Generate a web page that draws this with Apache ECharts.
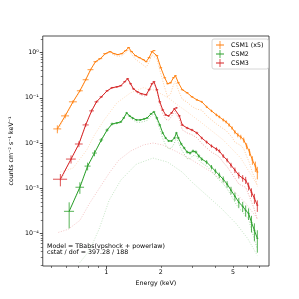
<!DOCTYPE html>
<html><head><meta charset="utf-8">
<script src="https://cdn.jsdelivr.net/npm/echarts@6/dist/echarts.min.js"></script>
<style>html,body{margin:0;padding:0;background:#fff}#c{width:299px;height:299px}</style>
</head><body><div id="c"></div>
<script>
// ---- CSM1 (x5) ----
var csm1E = [0.538,0.594,0.656,0.716,0.771,0.820,0.873,0.928,0.988,1.051,1.104,1.160,1.219,1.281,1.329,1.380,1.450,1.523,1.601,1.661,1.724,1.789,1.834,1.903,2.000,2.102,2.182,2.264,2.350,2.409,2.500,2.626,2.795,2.973,3.162,3.365,3.579,3.808,4.052,4.205,4.418,4.585,4.759,4.94,5.125,5.319,5.52,5.73,5.946,6.17,6.40,6.646,6.813];
var csm1HW = [0.027,0.030,0.033,0.027,0.029,0.031,0.022,0.023,0.025,0.020,0.021,0.022,0.023,0.024,0.025,0.026,0.027,0.029,0.030,0.031,0.032,0.033,0.034,0.035,0.036,0.038,0.039,0.041,0.042,0.043,0.045,0.047,0.05,0.053,0.045,0.045,0.045,0.047,0.05,0.05,0.055,0.055,0.06,0.06,0.065,0.065,0.07,0.07,0.075,0.075,0.08,0.08,0.085];
var csm1Flux = [0.0205,0.0398,0.0815,0.143,0.251,0.419,0.631,0.736,0.950,1.052,0.950,0.903,0.950,1.108,1.292,1.052,0.858,0.774,0.699,0.631,0.774,1.052,1.108,0.858,0.464,0.278,0.205,0.215,0.278,0.308,0.215,0.151,0.129,0.105,0.0903,0.0815,0.0631,0.0514,0.0419,0.0378,0.0324,0.0293,0.0251,0.0215,0.0175,0.0151,0.0136,0.0117,0.00858,0.00631,0.00419,0.00308,0.00227];
var csm1Err = [0.0041,0.0048,0.0065,0.0086,0.0125,0.017,0.019,0.022,0.028,0.032,0.028,0.027,0.028,0.033,0.039,0.032,0.026,0.023,0.021,0.019,0.023,0.032,0.033,0.026,0.014,0.0083,0.0062,0.0065,0.0083,0.0092,0.0065,0.0045,0.0052,0.0042,0.0045,0.0041,0.0038,0.0031,0.0029,0.0026,0.0026,0.0023,0.0023,0.0019,0.0018,0.0017,0.0016,0.0015,0.0013,0.0011,0.0009,0.0008,0.0007];
var csm1Vps = [0.0183,0.0373,0.0787,0.1385,0.2445,0.409,0.615,0.712,0.915,1.002,0.885,0.823,0.855,0.998,1.17,0.92,0.713,0.616,0.532,0.468,0.616,0.899,0.96,0.721,0.341,0.168,0.104,0.123,0.195,0.231,0.148,0.093,0.080,0.064,0.056,0.0535,0.040,0.0324,0.0264,0.0238,0.0207,0.0188,0.0159,0.0134,0.0104,0.0096,0.0088,0.0075,0.0051,0.0036,0.0022,0.0016,0.0011];
var csm1PlE = [0.559,0.656,0.781,0.862,0.975,1.146,1.363,1.601,1.811,2.05,2.236,2.469,2.795,3.365,4.418,5.52,6.813];
var csm1Pl = [0.00227,0.00278,0.00699,0.0151,0.0324,0.0774,0.129,0.167,0.151,0.117,0.095,0.0699,0.0489,0.0278,0.0117,0.00464,0.00117];

// ---- CSM2 ----
var csm2E = [0.625,0.716,0.790,0.862,0.940,1.012,1.077,1.146,1.204,1.250,1.297,1.346,1.397,1.468,1.542,1.620,1.682,1.767,1.834,1.903,1.975,2.05,2.128,2.209,2.293,2.378,2.439,2.500,2.594,2.692,2.795,2.900,3.01,3.124,3.243,3.365,3.579,3.808,4.0,4.205,4.418,4.642,4.877,5.125,5.385,5.657,5.874,6.096,6.325,6.565,6.813];
var csm2HW = [0.04,0.039,0.03,0.026,0.022,0.02,0.02,0.02,0.02,0.02,0.02,0.021,0.022,0.023,0.024,0.025,0.026,0.028,0.03,0.031,0.032,0.033,0.034,0.035,0.036,0.038,0.04,0.042,0.044,0.046,0.048,0.05,0.052,0.055,0.055,0.05,0.05,0.055,0.055,0.06,0.06,0.065,0.065,0.07,0.07,0.075,0.075,0.08,0.08,0.085,0.085];
var csm2Flux = [0.000308,0.00105,0.00308,0.00599,0.0117,0.0194,0.0264,0.0278,0.0293,0.0359,0.0464,0.0398,0.0359,0.0324,0.0324,0.0341,0.0359,0.0441,0.0489,0.0359,0.0251,0.0167,0.0129,0.0111,0.0111,0.0129,0.0167,0.0129,0.0095,0.00774,0.00631,0.00599,0.00664,0.00631,0.00514,0.00441,0.00378,0.00293,0.00239,0.00194,0.00158,0.00123,0.000903,0.000664,0.000489,0.000398,0.000324,0.000278,0.000175,0.000117,0.0000775];
var csm2Err = [0.000179,0.0003,0.0006,0.0009,0.0012,0.0015,0.0018,0.0014,0.0015,0.0018,0.0023,0.002,0.0018,0.0016,0.0016,0.0017,0.0018,0.0022,0.0024,0.0018,0.0013,0.0009,0.0007,0.0006,0.0006,0.0007,0.0009,0.0007,0.0006,0.0005,0.00045,0.00045,0.0005,0.0005,0.00045,0.0004,0.00038,0.00033,0.0003,0.00027,0.00024,0.0002,0.00017,0.00014,0.00012,0.0001,0.00009,0.00008,0.00007,0.00005,0.00004];
var csm2Vps = [0.000308,0.00103,0.00305,0.00592,0.01153,0.0190,0.0257,0.0267,0.0278,0.0341,0.0443,0.0373,0.033,0.029,0.0287,0.0301,0.0316,0.0395,0.0443,0.0314,0.0208,0.0126,0.009,0.0074,0.0078,0.0099,0.0139,0.0103,0.0072,0.0057,0.0045,0.0045,0.0053,0.0052,0.0042,0.0036,0.0031,0.0024,0.0019,0.0015,0.00125,0.00097,0.0007,0.00049,0.00036,0.0003,0.00024,0.00021,0.00012,0.000074,0.000045];
var csm2PlE = [0.716,0.810,0.917,1.038,1.204,1.468,1.811,2.182,2.626,2.973,3.579,4.31,5.19,6.02,6.813];
var csm2Pl = [0.0000227,0.0000419,0.000129,0.000541,0.00151,0.00341,0.00464,0.00378,0.00227,0.00136,0.000699,0.000359,0.000167,0.0000775,0.0000324];

// ---- CSM3 ----
var csm3E = [0.559,0.640,0.707,0.771,0.831,0.884,0.940,1.012,1.077,1.146,1.204,1.265,1.313,1.363,1.414,1.486,1.562,1.661,1.724,1.789,1.834,1.903,1.975,2.05,2.128,2.209,2.293,2.378,2.439,2.531,2.626,2.795,2.973,3.162,3.365,3.579,3.808,4.052,4.205,4.418,4.642,4.877,5.125,5.385,5.657,5.874,6.096,6.325,6.565,6.813];
var csm3HW = [0.05,0.04,0.035,0.03,0.025,0.022,0.02,0.02,0.02,0.021,0.022,0.023,0.024,0.025,0.026,0.027,0.028,0.03,0.031,0.032,0.033,0.034,0.035,0.036,0.037,0.038,0.04,0.041,0.042,0.044,0.046,0.05,0.053,0.056,0.045,0.048,0.05,0.055,0.055,0.06,0.06,0.065,0.065,0.07,0.07,0.075,0.075,0.08,0.08,0.085];
var csm3Flux = [0.00158,0.00441,0.0095,0.0251,0.0514,0.0815,0.105,0.143,0.167,0.175,0.185,0.227,0.264,0.205,0.158,0.136,0.123,0.117,0.151,0.205,0.227,0.151,0.0815,0.0541,0.0419,0.0398,0.0464,0.057,0.0599,0.0398,0.0251,0.0215,0.0194,0.0167,0.0129,0.0105,0.00858,0.00735,0.00664,0.00514,0.00419,0.00324,0.00251,0.00194,0.00167,0.00151,0.00111,0.000815,0.000599,0.000419];
var csm3Err = [0.00048,0.0009,0.0014,0.0025,0.004,0.005,0.005,0.006,0.007,0.007,0.007,0.009,0.01,0.008,0.006,0.005,0.005,0.005,0.006,0.008,0.009,0.006,0.0035,0.0025,0.002,0.002,0.0022,0.0027,0.0028,0.002,0.0014,0.0013,0.0012,0.0011,0.0009,0.0008,0.0007,0.0007,0.0006,0.0005,0.00045,0.0004,0.00035,0.0003,0.00028,0.00027,0.00022,0.00018,0.00015,0.00012];
var csm3Vps = [0.00148,0.00428,0.00932,0.0248,0.0509,0.0807,0.1038,0.141,0.164,0.171,0.18,0.222,0.258,0.198,0.151,0.128,0.114,0.108,0.141,0.195,0.217,0.141,0.072,0.0451,0.0334,0.0318,0.0389,0.0501,0.0534,0.0337,0.0196,0.0167,0.0152,0.0131,0.0098,0.0078,0.00628,0.00545,0.00494,0.00374,0.00299,0.00224,0.00167,0.00124,0.00112,0.00105,0.00073,0.000505,0.000339,0.0002];
var csm3PlE = [0.545,0.617,0.716,0.810,0.917,1.038,1.175,1.363,1.601,1.811,2.05,2.469,2.973,3.808,4.877,5.874,6.813];
var csm3Pl = [0.000105,0.000123,0.000194,0.000464,0.001,0.00215,0.00419,0.00664,0.00903,0.01,0.00903,0.00631,0.00419,0.00227,0.001,0.000464,0.000215];

// ---- axes ticks ----
var xLabelTicks = [1, 2, 5];
var xMajorTicks = [1];
var xMinorTicks = [0.5, 0.6, 0.7, 0.8, 0.9, 2, 3, 4, 5, 6, 7];
var yMajorTicks = [1e-4, 1e-3, 1e-2, 1e-1, 1];
var yMinorMant = [2, 3, 4, 5, 6, 7, 8, 9];
var yMinorDecades = [1e-5, 1e-4, 1e-3, 1e-2, 1e-1, 1];

var FONT = 'DejaVu Sans';
var FS = 6.3;
var C1 = '#ff7f0e', C2 = '#2ca02c', C3 = '#d62728';

var yMinorTicks = [];
yMinorDecades.forEach(function (d) { yMinorMant.forEach(function (m) { var v = +(m * d).toPrecision(3); if (v > 1.9e-5 && v < 2.3) yMinorTicks.push(v); }); });

function rows(E, HW, F, ER) {
  return E.map(function (e, i) { return [e, e - HW[i], e + HW[i], F[i], F[i] - ER[i], F[i] + ER[i]]; });
}
function pairs(E, V) { return E.map(function (e, i) { return [e, V[i]]; }); }
function rgba(hex, a) {
  var r = parseInt(hex.substr(1, 2), 16), g = parseInt(hex.substr(3, 2), 16), b = parseInt(hex.substr(5, 2), 16);
  return 'rgba(' + r + ',' + g + ',' + b + ',' + a + ')';
}
function errSeries(name, color, data) {
  return {
    type: 'custom', name: name, xAxisIndex: 0, yAxisIndex: 0, z: 4, clip: true,
    itemStyle: { color: color },
    encode: { x: [0, 1, 2], y: [3, 4, 5] },
    data: data,
    renderItem: function (params, api) {
      var l = api.coord([api.value(1), api.value(3)]);
      var r = api.coord([api.value(2), api.value(3)]);
      var t = api.coord([api.value(0), api.value(5)]);
      var b = api.coord([api.value(0), api.value(4)]);
      var st = { stroke: rgba(color, 0.8), lineWidth: 1 };
      return { type: 'group', children: [
        { type: 'line', shape: { x1: l[0], y1: l[1], x2: r[0], y2: r[1] }, style: st },
        { type: 'line', shape: { x1: t[0], y1: t[1], x2: b[0], y2: b[1] }, style: st }
      ] };
    }
  };
}
function lineSeries(color, data, opts) {
  return Object.assign({
    type: 'line', xAxisIndex: 0, yAxisIndex: 0, showSymbol: false, symbol: 'none', silent: true,
    data: data, z: 3, lineStyle: { color: color, width: 1 }
  }, opts || {});
}
function dotted(color, data, a) {
  return lineSeries(rgba(color, a), data, { z: 2, lineStyle: { color: rgba(color, a), width: 0.9, type: [1, 1.6] } });
}
var supMap = { '-': '\u207B', '0': '\u2070', '1': '\u00B9', '2': '\u00B2', '3': '\u00B3', '4': '\u2074', '5': '\u2075' };
function sup(s) { return String(s).split('').map(function (c) { return supMap[c]; }).join(''); }

var XMIN = 0.447, XMAX = 7.9, YMIN = 1.9e-5, YMAX = 2.33;
var textStyle = { fontFamily: FONT, fontSize: FS, color: '#000' };

var chart = echarts.init(document.getElementById('c'), null, { renderer: 'canvas' });
var option = {
  animation: false,
  backgroundColor: '#fff',
  grid: { left: 37, right: 30, top: 36, bottom: 33, show: true, borderColor: '#222', borderWidth: 0.8, backgroundColor: 'transparent' },
  xAxis: [
    { type: 'log', logBase: 10, min: XMIN, max: XMAX, gridIndex: 0,
      name: 'Energy (keV)', nameLocation: 'middle', nameGap: 10, nameTextStyle: textStyle,
      axisLine: { show: false }, splitLine: { show: false },
      axisTick: { show: true, inside: false, length: 3, customValues: xMajorTicks, lineStyle: { color: '#222', width: 0.8 } },
      axisLabel: { customValues: xLabelTicks, margin: 3, fontFamily: FONT, fontSize: FS, color: '#000', formatter: function (v) { return String(+v.toPrecision(3)); } }
    },
    { type: 'log', logBase: 10, min: XMIN, max: XMAX, gridIndex: 0, position: 'bottom',
      axisLine: { show: false }, splitLine: { show: false }, axisLabel: { show: false },
      axisTick: { show: true, length: 2, customValues: xMinorTicks, lineStyle: { color: '#222', width: 0.6 } }
    }
  ],
  yAxis: [
    { type: 'log', logBase: 10, min: YMIN, max: YMAX, gridIndex: 0,
      name: 'counts cm\u207B\u00B2 s\u207B\u00B9 keV\u207B\u00B9', nameLocation: 'middle', nameGap: 18, nameTextStyle: textStyle,
      axisLine: { show: false }, splitLine: { show: false },
      axisTick: { show: true, length: 3, customValues: yMajorTicks, lineStyle: { color: '#222', width: 0.8 } },
      axisLabel: { customValues: yMajorTicks, margin: 4, fontFamily: FONT, fontSize: FS, color: '#000',
        formatter: function (v) { return '10' + sup(Math.round(Math.log10(v))); } }
    },
    { type: 'log', logBase: 10, min: YMIN, max: YMAX, gridIndex: 0, position: 'left',
      axisLine: { show: false }, splitLine: { show: false }, axisLabel: { show: false },
      axisTick: { show: true, length: 2, customValues: yMinorTicks, lineStyle: { color: '#222', width: 0.6 } }
    }
  ],
  legend: {
    orient: 'vertical', left: 212, top: 39, padding: [2, 5, 2, 4], itemGap: 1, itemWidth: 8, itemHeight: 8,
    borderColor: '#ccc', borderWidth: 0.8, borderRadius: 2, backgroundColor: 'rgba(255,255,255,0.8)',
    textStyle: { fontFamily: FONT, fontSize: FS, color: '#000', padding: [0, 0, 0, 2] },
    data: [
      { name: 'CSM1 (x5)', icon: 'path://M0,4.5H10V5.5H0Z M4.5,0H5.5V10H4.5Z' },
      { name: 'CSM2', icon: 'path://M0,4.5H10V5.5H0Z M4.5,0H5.5V10H4.5Z' },
      { name: 'CSM3', icon: 'path://M0,4.5H10V5.5H0Z M4.5,0H5.5V10H4.5Z' }
    ]
  },
  graphic: [
    { type: 'text', left: 47, top: 242.5, silent: true,
      style: { text: 'Model = TBabs(vpshock + powerlaw)\ncstat / dof = 397.28 / 188', fontFamily: FONT, fontSize: FS, lineHeight: 6.8, fill: '#000' } }
  ],
  series: [
    dotted(C1, pairs(csm1PlE, csm1Pl), 0.3),
    dotted(C2, pairs(csm2PlE, csm2Pl), 0.3),
    dotted(C3, pairs(csm3PlE, csm3Pl), 0.3),
    dotted(C1, pairs(csm1E, csm1Vps), 0.45),
    dotted(C2, pairs(csm2E, csm2Vps), 0.45),
    dotted(C3, pairs(csm3E, csm3Vps), 0.45),
    lineSeries(C1, pairs(csm1E, csm1Flux)),
    lineSeries(C2, pairs(csm2E, csm2Flux)),
    lineSeries(C3, pairs(csm3E, csm3Flux)),
    errSeries('CSM1 (x5)', C1, rows(csm1E, csm1HW, csm1Flux, csm1Err)),
    errSeries('CSM2', C2, rows(csm2E, csm2HW, csm2Flux, csm2Err)),
    errSeries('CSM3', C3, rows(csm3E, csm3HW, csm3Flux, csm3Err))
  ]
};
chart.setOption(option);
</script></body></html>
